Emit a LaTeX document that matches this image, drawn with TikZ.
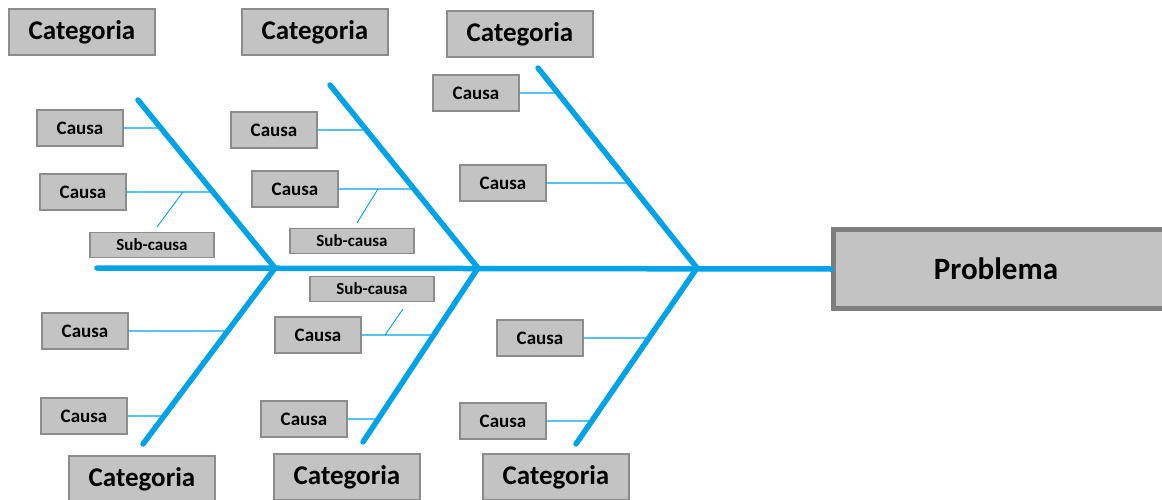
\documentclass[tikz,border=0pt]{standalone}
\usepackage{fontspec}
\setmainfont{Carlito}
\usetikzlibrary{positioning}

\definecolor{bonecol}{RGB}{0,162,232}
\definecolor{boxfill}{RGB}{195,195,195}
\definecolor{boxline}{RGB}{140,140,140}

\begin{document}
\begin{tikzpicture}[
      x=1pt, y=-1pt,
      catbox/.style={draw=boxline, fill=boxfill, line width=1.2pt, inner sep=0pt,
                     minimum width=146pt, minimum height=46pt,
                     font=\fontsize{27}{32}\selectfont\bfseries},
      causa/.style={draw=boxline, fill=boxfill, line width=1.2pt, inner sep=0pt,
                    minimum width=86pt, minimum height=36pt,
                    font=\fontsize{19}{23}\selectfont\bfseries},
      subcausa/.style={draw=boxline, fill=boxfill, line width=1.2pt, inner sep=0pt,
                       minimum width=124pt, minimum height=25pt,
                       font=\fontsize{17}{20}\selectfont\bfseries},
      bone/.style={draw=bonecol, line width=5.5pt, line cap=round},
      twig/.style={draw=bonecol, line width=1.3pt},
      subtwig/.style={draw=bonecol, line width=0.9pt},
    ]
    \useasboundingbox (0,0) rectangle (1162,500);

    % head of the fish
    \node[draw=boxline!90!black, fill=boxfill, line width=5pt, inner sep=0pt,
          minimum width=335pt, minimum height=79pt,
          font=\fontsize{31}{37}\selectfont\bfseries] (prob) at (1001,269) {\hspace*{-10pt}Problema};

    % bones: top tips, joints on the spine, bottom tips
    \coordinate (tail) at (97,268);
    \coordinate (t1) at (138,100);
    \coordinate (t2) at (330,85);
    \coordinate (t3) at (538,68);
    \coordinate (j1) at (275,268);
    \coordinate (j2) at (478,268);
    \coordinate (j3) at (697,268);
    \coordinate (b1) at (143,444);
    \coordinate (b2) at (363,442);
    \coordinate (b3) at (576,444);

    \draw[bone] (tail) -- (prob.west);
    \draw[bone, line join=miter] (t1) -- (j1) -- (b1);
    \draw[bone, line join=miter] (t2) -- (j2) -- (b2);
    \draw[bone, line join=miter] (t3) -- (j3) -- (b3);

    % categories
    \node[catbox] (cat1) at (82,32) {Categoria};
    \node[catbox] (cat2) at (315,32) {Categoria};
    \node[catbox] (cat3) at (520,34) {Categoria};
    \node[catbox] (cat4) at (142,479) {Categoria};
    \node[catbox] (cat5) at (347,477) {Categoria};
    \node[catbox] (cat6) at (556,477) {Categoria};

    % causes, upper half
    \node[causa] (u1a) at (80,128) {Causa};
    \node[causa] (u1b) at (83,192) {Causa};
    \node[subcausa] (s1) at (152,245) {Sub-causa};
    \node[causa] (u2a) at (274,130) {Causa};
    \node[causa] (u2b) at (295,189) {Causa};
    \node[subcausa] (s2) at (352,241) {Sub-causa};
    \node[causa] (u3a) at (476,93) {Causa};
    \node[causa] (u3b) at (503,183) {Causa};

    % causes, lower half
    \node[causa] (l1a) at (85,331) {Causa};
    \node[causa] (l1b) at (84,416) {Causa};
    \node[subcausa] (s3) at (372,289) {Sub-causa};
    \node[causa] (l2a) at (318,335) {Causa};
    \node[causa] (l2b) at (304,419) {Causa};
    \node[causa] (l3a) at (540,338) {Causa};
    \node[causa] (l3b) at (503,421) {Causa};

    \draw[twig] (u1a) -- (intersection of t1--j1 and u1a.west--u1a.east);
    \draw[twig] (u1b) -- (intersection of t1--j1 and u1b.west--u1b.east);
    \draw[twig] (u2a) -- (intersection of t2--j2 and u2a.west--u2a.east);
    \draw[twig] (u2b) -- (intersection of t2--j2 and u2b.west--u2b.east);
    \draw[twig] (u3a) -- (intersection of t3--j3 and u3a.west--u3a.east);
    \draw[twig] (u3b) -- (intersection of t3--j3 and u3b.west--u3b.east);
    \draw[twig] (l1a) -- (intersection of j1--b1 and l1a.west--l1a.east);
    \draw[twig] (l1b) -- (intersection of j1--b1 and l1b.west--l1b.east);
    \draw[twig] (l2a) -- (intersection of j2--b2 and l2a.west--l2a.east);
    \draw[twig] (l2b) -- (intersection of j2--b2 and l2b.west--l2b.east);
    \draw[twig] (l3a) -- (intersection of j3--b3 and l3a.west--l3a.east);
    \draw[twig] (l3b) -- (intersection of j3--b3 and l3b.west--l3b.east);

    % small branches towards the sub-causes
    \coordinate (k1) at (183,192);
    \coordinate (e1) at (157,227);
    \coordinate (k2) at (378,189);
    \coordinate (e2) at (357,223);
    \coordinate (k3) at (385,335);
    \coordinate (e3) at (403,309);
    \draw[subtwig] (k1) -- (e1);
    \draw[subtwig] (k2) -- (e2);
    \draw[subtwig] (k3) -- (e3);
\end{tikzpicture}
\end{document}
